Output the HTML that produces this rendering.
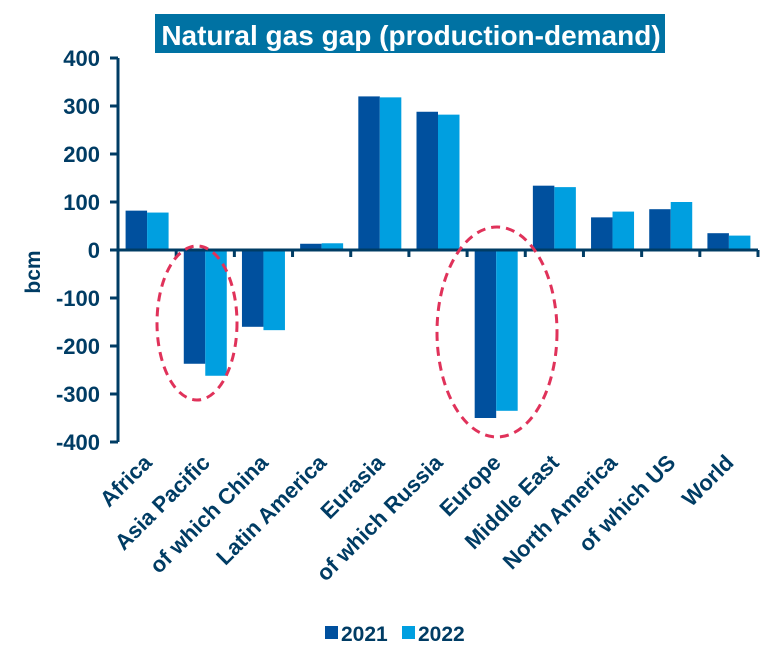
<!DOCTYPE html>
<html><head><meta charset="utf-8"><style>
body{margin:0;background:#fff;width:771px;height:652px;overflow:hidden;font-family:"Liberation Sans",Arial,sans-serif}
</style></head><body>
<svg width="771" height="652" style="font-family:'Liberation Sans',Arial,sans-serif;font-weight:bold">
<rect x="155" y="14" width="510" height="39" fill="#0072a3"/>
<text x="411" y="45" text-anchor="middle" font-size="28" fill="#fff">Natural gas gap (production-demand)</text>
<g id="plot"></g>
<text transform="translate(40,272) rotate(-90)" text-anchor="middle" font-size="21" fill="#003c64">bcm</text>
<ellipse cx="197" cy="323" rx="40" ry="77" fill="none" stroke="#e0325a" stroke-width="3" stroke-dasharray="9,6"/>
<ellipse cx="497" cy="332" rx="60" ry="105" fill="none" stroke="#e0325a" stroke-width="3" stroke-dasharray="9,6"/>
<rect x="325" y="626" width="13" height="13" fill="#00509e"/>
<text x="341" y="641" font-size="21" fill="#003c64">2021</text>
<rect x="402" y="626" width="13" height="13" fill="#009fe0"/>
<text x="418" y="641" font-size="21" fill="#003c64">2022</text>
</svg>
<script>
const categories=["Africa","Asia Pacific","of which China","Latin America","Eurasia","of which Russia","Europe","Middle East","North America","of which US","World"];
const s2021=[82,-237,-160,13,320,288,-350,134,68,85,35];
const s2022=[78,-262,-167,14,318,282,-335,131,80,100,30];
const yTicks=[400,300,200,100,0,-100,-200,-300,-400];
const NS="http://www.w3.org/2000/svg";
const g=document.getElementById('plot');
const x0=118,x1=758,y0=250,pxPer=0.48;
const y=v=>y0-v*pxPer;
const bw=(x1-x0)/categories.length;
function mk(t,a){const e=document.createElementNS(NS,t);for(const k in a)e.setAttribute(k,a[k]);g.appendChild(e);return e;}
categories.forEach((c,i)=>{
  const cx=x0+bw*(i+0.5);
  [[s2021,"#00509e",-1],[s2022,"#009fe0",0]].forEach(([s,col,o])=>{
    const v=s[i];const r=mk('rect',{x:cx+o*21.5,y:Math.min(y(v),y0),width:21.5,height:Math.abs(y(v)-y0),fill:col});
    
    
  });
  const t=mk('text',{transform:`translate(${cx+6},${464}) rotate(-45)`,'text-anchor':'end','font-size':'22',fill:'#003c64'});
  t.textContent=c;
  
  
  const tk=mk('line',{x1:x0+bw*(i+1),x2:x0+bw*(i+1),y1:y0,y2:y0+7,stroke:'#003c64','stroke-width':3});
  
  
});
yTicks.forEach(v=>{
  const l=mk('line',{x1:x0-8,x2:x0,y1:y(v),y2:y(v),stroke:'#003c64','stroke-width':3});
  
  
  const t=mk('text',{x:100,y:y(v)+8,'text-anchor':'end','font-size':22,fill:'#003c64'});
  t.textContent=v;
  
  
});
const ya=mk('line',{x1:x0,x2:x0,y1:y(400),y2:y(-400),stroke:'#003c64','stroke-width':3});


const xa=mk('line',{x1:x0,x2:x1,y1:y0,y2:y0,stroke:'#003c64','stroke-width':3});


</script>
</body></html>
